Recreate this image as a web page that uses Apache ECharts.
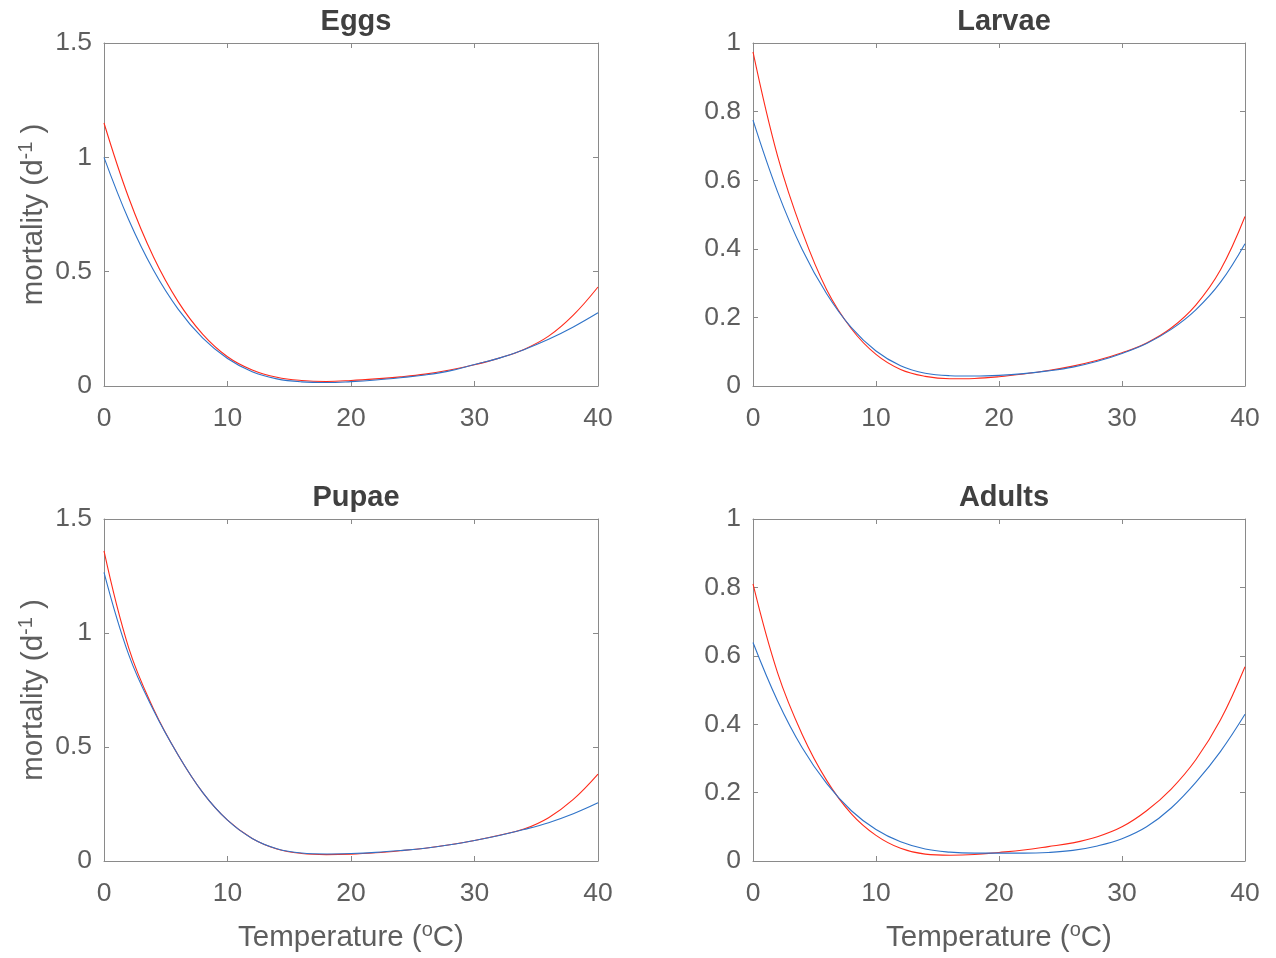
<!DOCTYPE html>
<html><head><meta charset="utf-8">
<script src="https://cdn.jsdelivr.net/npm/echarts@6/dist/echarts.min.js"></script>
<style>html,body{margin:0;padding:0;background:#fff}#c{width:1276px;height:958px}</style>
</head><body><div id="c"></div>
<script>
// ---- data ----
const temperature = [0,2,4,6,8,10,12,14,16,18,20,22,24,26,28,30,32,34,36,38,40];
const eggsRed    = [1.150,0.823,0.565,0.369,0.226,0.128,0.070,0.038,0.024,0.020,0.024,0.031,0.040,0.052,0.070,0.093,0.122,0.160,0.218,0.310,0.433];
const eggsBlue   = [1.000,0.727,0.507,0.336,0.209,0.120,0.062,0.031,0.018,0.015,0.019,0.026,0.036,0.048,0.066,0.094,0.122,0.159,0.204,0.258,0.320];
const larvaeRed  = [0.974,0.670,0.450,0.280,0.167,0.092,0.048,0.028,0.021,0.022,0.027,0.035,0.045,0.058,0.075,0.097,0.1255,0.169,0.236,0.338,0.494];
const larvaeBlue = [0.775,0.566,0.398,0.268,0.170,0.102,0.059,0.037,0.030,0.029,0.031,0.036,0.044,0.055,0.072,0.095,0.124,0.165,0.222,0.302,0.415];
const pupaeRed   = [1.360,0.935,0.668,0.465,0.300,0.179,0.099,0.053,0.033,0.028,0.030,0.036,0.045,0.056,0.071,0.090,0.113,0.140,0.190,0.270,0.381];
const pupaeBlue  = [1.266,0.905,0.662,0.465,0.300,0.179,0.099,0.054,0.035,0.031,0.033,0.038,0.046,0.056,0.071,0.090,0.112,0.138,0.168,0.207,0.255];
const adultsRed  = [0.810,0.550,0.370,0.235,0.138,0.075,0.037,0.020,0.017,0.019,0.025,0.032,0.042,0.053,0.071,0.100,0.147,0.2105,0.296,0.412,0.568];
const adultsBlue = [0.639,0.468,0.331,0.226,0.147,0.092,0.056,0.035,0.026,0.023,0.023,0.023,0.025,0.031,0.044,0.065,0.100,0.155,0.230,0.320,0.429];
const panelTitles = ['Eggs','Larvae','Pupae','Adults'];
const yMaxes = [1.5, 1, 1.5, 1];
const yIntervals = [0.5, 0.2, 0.5, 0.2];
const xMin = 0, xMax = 40, xInterval = 10;

// ---- layout / style ----
const panels = [
  {left:104, top:43,  width:494, height:343, red:eggsRed,   blue:eggsBlue,   yName:true,  xName:false},
  {left:753, top:43,  width:492, height:343, red:larvaeRed, blue:larvaeBlue, yName:false, xName:false},
  {left:104, top:519, width:494, height:342, red:pupaeRed,  blue:pupaeBlue,  yName:true,  xName:true},
  {left:753, top:519, width:492, height:342, red:adultsRed, blue:adultsBlue, yName:false, xName:true}
];
const FONT = 'Liberation Sans';
const AX = '#8a8a8a';
const TXT = '#5e5e5e';
const RED = '#ff2a1a';
const BLUE = '#2f73c8';

const grids = [], xAxes = [], yAxes = [], series = [], titles = [];
const lineStyleAxis = {show:true, onZero:false, lineStyle:{color:AX, width:1}};
const tickStyle = {show:true, inside:true, length:5, lineStyle:{color:AX, width:1}};

const richN = {
  m:{fontFamily:FONT, fontSize:29.5, color:TXT, lineHeight:36},
  s:{fontFamily:FONT, fontSize:20, color:TXT, lineHeight:20, verticalAlign:'top'}
};

panels.forEach((p, i) => {
  grids.push({left:p.left, top:p.top, width:p.width, height:p.height, containLabel:false});
  titles.push({
    text: panelTitles[i],
    left: p.left + p.width/2, top: p.top - 41, textAlign:'center',
    textStyle:{fontFamily:FONT, fontSize:29, fontWeight:'bold', color:'#404040'}
  });
  const xb = {
    type:'value', gridIndex:i, position:'bottom', min:xMin, max:xMax, interval:xInterval,
    axisLine:lineStyleAxis, axisTick:tickStyle, splitLine:{show:false},
    axisLabel:{fontFamily:FONT, fontSize:26.5, color:TXT, margin:19}
  };
  if (p.xName) {
    xb.name = '{m|Temperature (}{s|o}{m|C)}';
    xb.nameLocation = 'middle';
    xb.nameGap = 59;
    xb.nameTextStyle = {rich:richN};
  }
  xAxes.push(xb);
  xAxes.push({
    type:'value', gridIndex:i, position:'top', min:xMin, max:xMax, interval:xInterval,
    axisLine:lineStyleAxis, axisTick:tickStyle, splitLine:{show:false}, axisLabel:{show:false}
  });
  const yl = {
    type:'value', gridIndex:i, position:'left', min:0, max:yMaxes[i], interval:yIntervals[i],
    axisLine:lineStyleAxis, axisTick:tickStyle, splitLine:{show:false},
    axisLabel:{fontFamily:FONT, fontSize:26.5, color:TXT, margin:12}
  };
  if (p.yName) {
    yl.name = '{m|mortality (d}{s|-1}{m| )}';
    yl.nameLocation = 'middle';
    yl.nameGap = 52;
    yl.nameTextStyle = {rich:richN};
  }
  yAxes.push(yl);
  yAxes.push({
    type:'value', gridIndex:i, position:'right', min:0, max:yMaxes[i], interval:yIntervals[i],
    axisLine:lineStyleAxis, axisTick:tickStyle, splitLine:{show:false}, axisLabel:{show:false}
  });
  [[p.red, RED], [p.blue, BLUE]].forEach(([arr, col]) => {
    series.push({
      type:'line', xAxisIndex:2*i, yAxisIndex:2*i,
      data: temperature.map((t, k) => [t, arr[k]]),
      smooth:0.4, showSymbol:false, symbol:'none',
      lineStyle:{color:col, width:1.1}, silent:true, clip:true
    });
  });
});

const chart = echarts.init(document.getElementById('c'), null, {renderer:'canvas'});
chart.setOption({
  backgroundColor:'#ffffff', animation:false,
  title:titles, grid:grids, xAxis:xAxes, yAxis:yAxes, series:series
});
</script></body></html>
